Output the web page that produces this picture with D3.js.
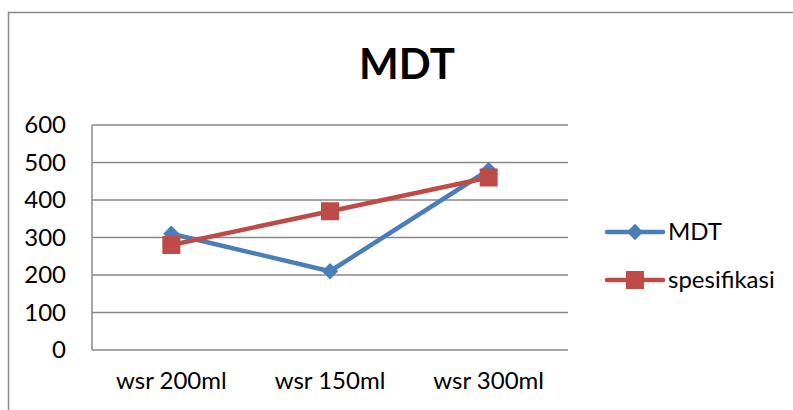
<!DOCTYPE html>
<html><head><meta charset="utf-8">
<script src="https://cdn.jsdelivr.net/npm/d3@7"></script>
<style>body{margin:0;background:#fff}svg{display:block}</style>
</head><body>
<svg id="c" width="793" height="410"></svg>
<script>
const categories = ["wsr 200ml", "wsr 150ml", "wsr 300ml"];
const mdtValues = [310, 210, 480];
const spesifikasiValues = [280, 370, 460];
const yTicks = [0, 100, 200, 300, 400, 500, 600];
const seriesNames = ["MDT", "spesifikasi"];

const svg = d3.select("#c");
const font = "Lato, 'Liberation Sans', sans-serif";
// outer border
svg.append("rect").attr("x", 8.5).attr("y", 12.5).attr("width", 800).attr("height", 420)
  .attr("fill", "none").attr("stroke", "#8a8a8a").attr("stroke-width", 1.5);

const L = 92, R = 568, T = 125, B = 350;
const x = d3.scaleBand().domain(categories).range([L, R]);
const y = d3.scaleLinear().domain([0, 600]).range([B, T]);

svg.append("text").attr("x", 407).attr("y", 79).attr("text-anchor", "middle")
  .attr("font-family", font).attr("font-weight", "bold").attr("font-size", 42).text("MDT");

// gridlines
svg.append("g").selectAll("line").data(yTicks).join("line")
  .attr("x1", L).attr("x2", R).attr("y1", d => y(d)).attr("y2", d => y(d))
  .attr("stroke", "#888").attr("stroke-width", 1.5);
svg.append("line").attr("x1", L).attr("x2", L).attr("y1", T).attr("y2", B)
  .attr("stroke", "#888").attr("stroke-width", 1.5);

const yAxis = svg.append("g").attr("transform", `translate(${L},0)`)
  .call(d3.axisLeft(y).tickValues(yTicks).tickSize(0).tickPadding(26));
yAxis.select(".domain").remove();
yAxis.selectAll("text").attr("font-family", font).attr("font-size", 24).attr("fill", "#000");

const xAxis = svg.append("g").attr("transform", `translate(0,${B})`)
  .call(d3.axisBottom(x).tickSize(0).tickPadding(22));
xAxis.select(".domain").remove();
xAxis.selectAll("text").attr("font-family", font).attr("font-size", 24).attr("fill", "#000");

const series = [
  {name: seriesNames[0], values: mdtValues, color: "#4a7ebb", marker: "diamond"},
  {name: seriesNames[1], values: spesifikasiValues, color: "#be4b48", marker: "square"}
];
const cx = c => x(c) + x.bandwidth() / 2;
const line = d3.line().x((d, i) => cx(categories[i])).y(d => y(d));

function drawMarker(g, m, px, py, color) {
  if (m === "diamond") {
    g.append("path").attr("d", d3.symbol(d3.symbolDiamond2, 170)())
      .attr("transform", `translate(${px},${py})`).attr("fill", color);
  } else {
    g.append("rect").attr("x", px - 9).attr("y", py - 9).attr("width", 18).attr("height", 18).attr("fill", color);
  }
}

series.forEach(s => {
  svg.append("path").datum(s.values).attr("d", line).attr("fill", "none")
    .attr("stroke", s.color).attr("stroke-width", 4.5).attr("stroke-linejoin", "round");
  const g = svg.append("g");
  s.values.forEach((v, i) => drawMarker(g, s.marker, cx(categories[i]), y(v), s.color));
});

// legend
const legY = [232, 280];
series.forEach((s, i) => {
  const g = svg.append("g");
  g.append("line").attr("x1", 607).attr("x2", 663).attr("y1", legY[i]).attr("y2", legY[i])
    .attr("stroke", s.color).attr("stroke-width", 4.5).attr("stroke-linecap", "round");
  drawMarker(g, s.marker, 635, legY[i], s.color);
  g.append("text").attr("x", 668).attr("y", legY[i]).attr("dy", "0.35em")
    .attr("font-family", font).attr("font-size", 24).text(s.name);
});
</script>
</body></html>
